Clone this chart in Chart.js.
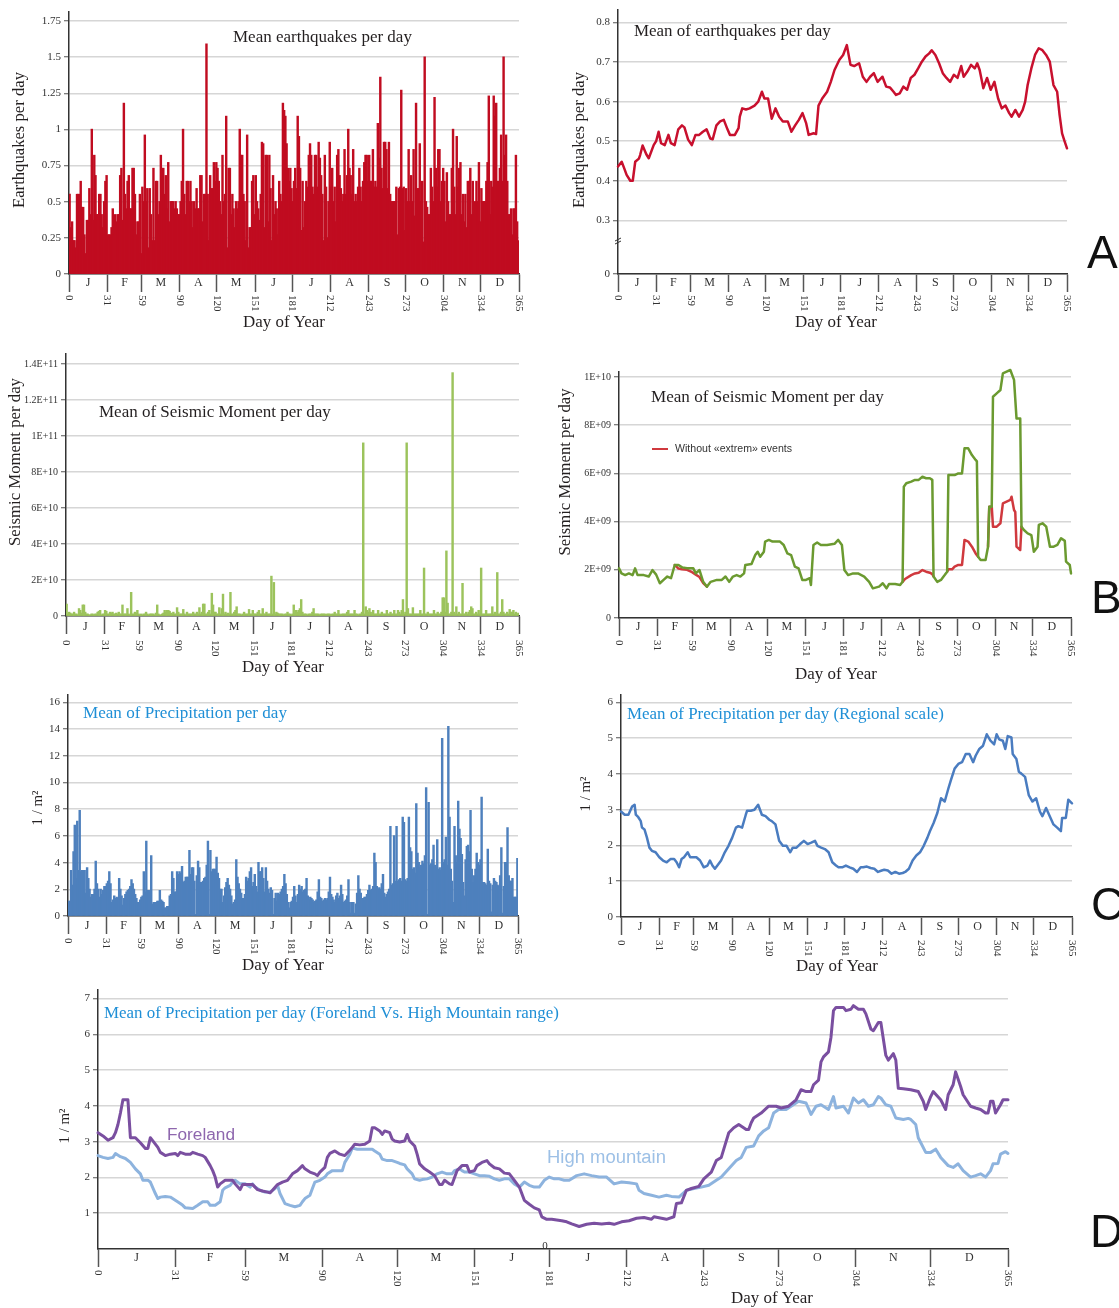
<!DOCTYPE html>
<html>
<head>
<meta charset="utf-8">
<script src="https://cdn.jsdelivr.net/npm/chart.js@4.4.1/dist/chart.umd.min.js"></script>
<style>
  html, body { margin: 0; padding: 0; background: #fff; }
  #page { position: relative; width: 1119px; height: 1308px; overflow: hidden; background: #fff; }
  #page canvas { position: absolute; }
</style>
</head>
<body>
<div id="page">
  <canvas id="quakeDailyChart"></canvas>
  <canvas id="quakeMeanChart"></canvas>
  <canvas id="momentDailyChart"></canvas>
  <canvas id="momentMeanChart"></canvas>
  <canvas id="rainDailyChart"></canvas>
  <canvas id="rainMeanChart"></canvas>
  <canvas id="rainZoneChart"></canvas>
</div>
<script>
const monthStarts = [0, 31, 59, 90, 120, 151, 181, 212, 243, 273, 304, 334, 365];
const monthLetters = ['J', 'F', 'M', 'A', 'M', 'J', 'J', 'A', 'S', 'O', 'N', 'D'];

// A - earthquakes per day (daily mean, day 1..365)
const quakeDaily = [
  0.55,0.32,0.36,0.23,0.23,0.18,0.55,0.55,0.55,0.64,
  0.46,0.46,0.27,0.14,0.37,0.37,0.59,0.41,1.0,0.37,
  0.82,0.68,0.41,0.41,0.55,0.55,0.41,0.32,0.5,0.64,
  0.68,0.27,0.27,0.27,0.32,0.45,0.27,0.41,0.36,0.41,
  0.41,0.68,0.73,0.37,1.18,0.55,0.45,0.64,0.68,0.45,
  0.45,0.73,0.73,0.55,0.27,0.36,0.36,0.55,0.14,0.6,
  0.5,0.96,0.5,0.59,0.18,0.59,0.41,0.23,0.73,0.23,
  0.64,0.64,0.41,0.5,0.82,0.73,0.73,0.55,0.68,0.45,
  0.77,0.36,0.5,0.5,0.5,0.45,0.5,0.45,0.41,0.41,
  0.5,0.64,1.0,0.55,0.41,0.64,0.64,0.5,0.64,0.5,
  0.32,0.5,0.45,0.59,0.45,0.45,0.68,0.68,0.36,0.55,
  0.55,1.59,0.55,0.23,0.68,0.59,0.59,0.77,0.64,0.77,
  0.73,0.64,0.5,0.41,0.82,0.5,0.55,1.09,0.18,0.73,
  0.73,0.41,0.55,0.45,0.32,0.5,0.45,0.5,1.0,0.82,
  0.82,0.55,0.5,0.23,0.96,0.18,0.32,0.32,0.64,0.68,
  0.41,0.68,0.5,0.45,0.37,0.55,0.91,0.9,0.32,0.82,
  0.82,0.36,0.82,0.59,0.23,0.68,0.41,0.5,0.45,0.27,
  0.64,0.55,0.5,1.18,1.13,1.09,0.9,0.73,0.64,0.73,
  0.59,0.5,0.64,0.73,0.59,1.09,0.95,0.73,0.3,0.64,
  0.32,0.5,0.64,0.6,0.82,0.9,0.82,0.6,0.55,0.82,
  0.82,0.6,0.91,0.8,0.68,0.55,0.23,0.82,0.6,0.25,
  0.5,0.91,0.6,0.73,0.5,0.6,0.36,0.82,0.86,0.68,
  0.59,0.5,0.55,0.86,0.55,0.68,1.0,0.73,0.68,0.55,
  0.86,0.5,0.55,0.5,0.6,0.73,0.6,0.5,0.64,0.77,
  0.82,0.82,0.64,0.82,0.64,0.64,0.86,0.6,0.64,0.6,
  1.04,0.8,1.36,0.73,0.59,0.91,0.91,0.86,0.59,0.91,
  0.55,0.5,0.5,0.5,0.5,0.6,0.27,0.59,0.6,1.27,
  0.59,0.6,0.3,0.59,0.5,0.86,0.5,0.68,0.5,0.86,
  0.4,1.18,0.59,0.59,0.9,0.5,0.64,0.22,1.5,0.5,
  0.46,0.41,0.41,0.73,0.6,0.5,1.22,0.73,0.6,0.86,
  0.86,0.5,0.64,0.73,0.64,0.36,0.7,0.5,0.41,0.41,
  0.73,1.0,0.6,0.41,0.95,0.6,0.73,0.77,0.41,0.55,
  0.36,0.55,0.32,0.64,0.64,0.73,0.41,0.64,0.41,0.5,
  0.64,0.5,0.77,0.36,0.59,0.5,0.5,0.5,0.64,0.77,
  1.23,0.41,0.64,0.6,1.23,1.09,1.18,0.64,0.64,0.73,
  0.96,0.64,1.5,0.82,0.96,0.64,0.41,0.41,0.45,0.27,
  0.45,0.45,0.82,0.36,0.23
];
const quakeTicks = [0, 0.25, 0.5, 0.75, 1, 1.25, 1.5, 1.75];

// A - running mean of earthquakes per day
const quakeMeanDays = [
  0,3,5,7,10,12,14,17,18,20,
  23,25,29,31,33,35,38,41,43,46,
  49,52,54,57,60,63,66,69,72,75,
  77,80,83,86,89,91,95,98,99,101,
  104,107,111,114,117,119,122,125,128,131,
  134,138,141,144,147,150,153,155,159,161,
  163,166,170,173,176,180,183,186,189,192,
  196,199,202,205,208,211,215,218,221,224,
  226,229,232,235,238,241,244,247,250,253,
  255,258,261,264,267,270,273,276,279,281,
  284,287,290,292,294,297,300,303,306,309,
  312,315,318,320,323,326,329,331,333,336,
  339,342,345,348,351,354,357,359,361,363,
  365
];
const quakeMean = [
  0.436,0.448,0.432,0.415,0.40,0.40,0.448,0.456,0.465,0.489,
  0.467,0.457,0.49,0.5,0.524,0.495,0.49,0.516,0.495,0.49,
  0.53,0.54,0.535,0.504,0.49,0.516,0.516,0.524,0.53,0.507,
  0.505,0.54,0.55,0.554,0.53,0.516,0.516,0.533,0.562,0.583,
  0.58,0.583,0.59,0.6,0.625,0.608,0.608,0.557,0.583,0.562,
  0.55,0.55,0.524,0.54,0.554,0.571,0.545,0.516,0.52,0.518,
  0.59,0.608,0.625,0.65,0.68,0.706,0.718,0.743,0.693,0.69,
  0.697,0.663,0.65,0.663,0.672,0.65,0.663,0.638,0.636,0.625,
  0.617,0.621,0.638,0.63,0.66,0.668,0.684,0.701,0.714,0.722,
  0.73,0.718,0.697,0.672,0.66,0.65,0.668,0.66,0.69,0.663,
  0.676,0.693,0.684,0.697,0.68,0.634,0.66,0.63,0.65,0.608,
  0.583,0.59,0.571,0.562,0.579,0.562,0.579,0.6,0.642,0.684,
  0.718,0.735,0.73,0.718,0.701,0.642,0.625,0.566,0.52,0.5,
  0.482
];
const quakeMeanTicks = [0.3, 0.4, 0.5, 0.6, 0.7, 0.8];

// B - seismic moment per day, in units of 1E+09
const momentDaily = [
  6.5,1,2,1.5,1,1,2,1,1,0.5,
  4,3,1.5,6,6,2,1,1,0.5,0.5,
  1,1,0.5,1,1,2,2.5,3,0.5,1,
  1,3,2.5,1,1,2,1.5,2,1,1,
  1.5,1,2,1,1,6,1,1,1,4,
  1,0.5,13,1,1,2,1.5,3,1,0.5,
  1,0.5,1,1,2,1,0.5,1,1,1,
  1,0.5,1.5,6,1,0.5,0.5,1,1.5,3,
  2,3,3,2.5,1.5,1,2,1,1,4.5,
  2,1,1,1,3.5,1,0.5,2,1,1,
  1,1,2,1,1,2,1,4.5,1,2,
  6.5,6.5,1,1,2,3,1,12.5,6,2,
  2,1,1,4.5,1,4,12,1,2,1,
  1.5,1,13,1,1,2,3,5,1,1,
  1,0.5,1,2,1,1,1,3.5,1,1,
  3,1,1,1,2,3,1,1,4,1,
  1,2,1,1,1,22,1,18.5,1,2,
  1.5,1,1,1,1,0.5,1,1,2,1,
  1,0.5,1,6,1,3,2,3,4,9,
  2,1,1,1,0.5,1,1,1,2,4,
  1,1,1,1,0.5,1,1,1,1,0.5,
  1,1,1,0.5,1,1,2,1,1,3,
  1,0.5,1,1,1,1,2,3,1,1,
  1,1,3,1,1,0.5,1,1,2,96,
  1,5,3,2,4,2,1,3,1,1,
  1,3,1,1,2,1,1,1,3,1,
  1,2,1,1,3,1,1,3,2,1,
  3,9,1,2,96,4,1,1,1,4.5,
  1,1,1,1,1,3,1,1,26.5,1,
  1,2,1,1,1,1,3,1,1,2,
  1,1,2,10,10,2,36,7,1,1,
  2,135,2,1,5,1,2,1,1,18,
  1,1,2,1,2,3,5,4,1,1,
  2,1,3,1,26.5,1,1,1,3,1,
  1,1,1,5,1,2,1,24,1,1,
  2,9,2,1,1,2,1,3.5,2,2,
  3,1,2,1,1.5
];
const momentDailyTicks = [0, 20, 40, 60, 80, 100, 120, 140];

// B - running mean of seismic moment (1E+09)
const momentMeanDays = [
  0,2,5,8,11,13,15,20,24,27,
  30,33,36,39,42,45,48,51,55,60,
  62,65,68,71,74,79,83,86,89,92,
  95,98,101,102,107,110,112,114,117,118,
  121,124,127,130,133,136,139,142,145,148,
  151,154,155,157,160,163,168,174,177,180,
  182,185,189,193,198,202,205,210,213,216,
  218,223,227,229,230,232,236,239,242,245,
  248,251,253,254,257,260,263,265,266,269,
  271,274,277,279,282,285,288,289,290,292,
  296,298,299,301,302,305,308,310,313,316,
  319,321,324,325,327,330,333,335,338,339,
  342,345,348,351,354,357,360,361,364,365
];
const momentMean = [
  2.06,1.85,1.78,1.85,1.78,2.06,1.78,1.78,1.72,1.99,
  1.8,1.44,1.58,1.72,1.65,2.2,2.2,2.1,2.06,2.06,
  1.85,1.99,1.5,1.3,1.5,1.58,1.58,1.72,1.5,1.72,
  1.78,1.72,1.85,2.2,2.24,2.61,2.75,2.54,2.75,3.17,
  3.24,3.17,3.17,3.17,3.03,2.68,2.61,2.13,2.06,1.58,
  1.58,1.65,1.37,3.03,3.13,3.03,3.03,3.08,3.24,3.03,
  1.99,1.78,1.85,1.85,1.72,1.5,1.23,1.3,1.44,1.23,
  1.41,1.41,1.37,1.5,5.45,5.59,5.66,5.73,5.73,5.86,
  5.8,5.8,5.73,1.72,1.5,1.58,1.78,1.92,5.93,5.93,
  5.93,6.0,6.0,7.04,7.04,6.76,6.56,6.5,2.54,2.41,
  2.41,2.96,4.62,4.62,9.18,9.32,9.46,10.15,10.22,10.29,
  9.88,8.28,8.28,3.79,3.65,3.51,3.44,2.75,2.96,3.86,
  3.93,3.79,2.96,2.96,3.03,3.31,3.2,2.34,2.2,1.85
];
// B - running mean without "extrem" events (only where it differs)
const momentCutDays = [
  45,48,51,55,59,62,65,68,71, 72,
  229,231,236,239,242,245,248,251,253,254, 255,
  265,266,269,271,274,277,279,282,285,288,290, 291,
  298,299,301,302,305,308,310,313,316,317,319,320,321,324,325
];
const momentCut = [
  2.2,2.05,2.02,2.0,1.9,1.8,1.7,1.45,1.3, null,
  1.5,1.62,1.78,1.85,1.88,1.99,1.92,1.88,1.82,1.72, null,
  1.92,2.02,2.02,2.13,2.2,2.2,3.24,3.17,2.96,2.68,2.54, null,
  2.96,4.62,4.62,3.79,3.79,3.93,4.76,4.83,4.9,5.03,4.48,4.4,2.96,2.82,3.79
];
const momentMeanTicks = [0, 2, 4, 6, 8, 10];

// C - precipitation per day (l/m2)
const rainDaily = [
  1.1,1.1,3.4,2.3,4.8,6.8,2.8,7.1,3.4,7.9,
  3.3,3.4,3.4,3.4,1.7,3.6,2.8,2.0,1.4,1.6,
  1.6,2.0,4.1,2.4,2.0,1.4,2.0,1.6,1.9,2.2,
  2.2,2.4,2.6,3.3,2.4,1.0,1.2,1.5,1.3,1.4,
  1.3,2.8,2.0,1.5,0.8,1.3,1.6,1.8,1.9,2.0,
  2.2,2.7,2.4,2.0,1.6,1.3,1.0,1.0,1.2,1.4,
  1.5,3.3,1.8,5.6,1.9,1.9,1.8,4.5,0.9,1.0,
  1.0,1.0,1.1,1.1,1.9,1.2,1.1,1.0,0.6,0.6,
  0.7,0.7,1.5,1.6,3.3,2.8,1.8,1.8,3.3,3.1,
  3.3,3.2,3.7,2.5,2.6,2.9,2.9,2.9,4.9,3.1,
  3.6,3.6,2.6,0.1,3.0,4.1,3.6,2.5,2.5,2.6,
  2.8,2.9,3.8,5.6,0.1,4.9,3.3,3.5,3.5,3.5,
  4.4,3.2,2.8,2.0,2.0,1.0,1.5,2.1,2.5,2.8,
  2.3,2.0,1.5,0.9,1.0,1.2,4.2,2.9,2.4,2.0,
  1.7,1.3,1.3,1.6,2.9,2.6,2.8,3.3,3.6,2.2,
  2.5,3.1,2.2,1.8,4.0,3.3,3.3,3.6,2.8,1.8,
  3.6,2.6,2.0,1.7,2.1,1.9,0.1,1.3,1.7,1.1,
  1.7,1.6,1.8,2.0,2.2,3.1,2.4,1.6,1.0,0.6,
  1.0,1.1,1.4,2.2,1.5,1.0,1.6,2.3,2.0,2.2,
  1.8,1.9,2.0,2.8,1.5,1.2,1.4,1.3,1.2,1.0,
  1.1,1.2,1.8,2.7,1.4,1.3,1.1,1.2,1.3,1.2,
  1.3,1.8,2.9,1.6,1.4,1.2,1.0,1.5,1.7,1.3,
  1.5,2.3,1.6,1.0,1.1,1.2,1.5,2.7,1.0,0.2,
  1.0,1.0,0.2,0.9,1.7,3.0,2.0,1.7,1.3,1.3,
  1.4,1.4,1.6,1.9,2.3,1.9,2.0,2.2,4.7,4.0,
  2.2,2.0,2.1,2.0,2.4,3.1,1.7,1.4,1.6,1.8,
  2.0,6.7,2.3,2.4,6.0,2.6,6.7,2.6,2.7,2.8,
  2.6,7.4,7.0,2.7,2.6,2.8,7.4,5.1,4.8,3.5,
  3.6,3.2,8.4,4.7,4.0,3.6,3.8,4.1,3.9,4.5,
  9.6,0.1,8.5,3.8,3.9,4.2,5.3,3.8,3.6,5.7,
  3.5,3.6,3.4,13.3,4.0,4.2,5.9,3.8,14.2,7.4,
  3.5,2.6,1.0,6.7,4.5,4.0,8.6,6.5,5.8,4.6,
  2.5,1.5,4.2,5.2,5.3,4.8,7.9,3.5,2.5,3.0,
  3.5,4.7,4.0,3.8,4.2,8.9,2.5,2.5,2.4,2.3,
  5.0,2.6,2.4,0.3,2.3,2.8,2.6,2.5,2.3,2.2,
  3.0,5.1,0.2,2.2,4.0,4.0,6.6,3.0,2.6,2.6,
  2.8,1.4,1.4,1.4,4.3
];
const rainDailyTicks = [0, 2, 4, 6, 8, 10, 12, 14, 16];

// C - running mean of precipitation (regional scale)
const rainMeanDays = [
  0,3,6,9,11,12,14,16,17,19,
  21,23,25,28,31,34,37,40,43,45,
  47,49,51,54,56,58,61,64,67,70,
  72,74,76,78,81,84,87,90,93,95,
  98,101,102,105,108,111,114,117,120,122,
  125,128,131,134,137,139,142,145,148,151,
  154,157,159,162,165,168,171,174,176,179,
  182,185,188,191,194,196,199,202,205,208,
  211,213,216,219,222,225,228,230,233,236,
  239,242,245,248,250,253,256,259,262,265,
  267,270,273,276,279,282,285,287,290,293,
  296,299,302,304,306,309,311,313,316,317,
  320,322,324,327,330,333,336,339,341,344,
  347,350,353,356,357,360,362,365
];
const rainMean = [
  2.95,2.86,2.86,3.09,3.14,2.86,2.79,2.68,2.5,2.45,
  2.22,1.94,1.85,1.81,1.67,1.58,1.53,1.62,1.62,1.53,
  1.39,1.62,1.67,1.81,1.67,1.67,1.67,1.58,1.39,1.44,
  1.58,1.44,1.35,1.44,1.58,1.81,1.99,2.22,2.5,2.54,
  2.5,2.86,2.97,2.97,3.0,3.14,2.86,2.82,2.72,2.68,
  2.59,2.13,1.99,1.99,1.81,1.94,1.94,2.04,2.13,2.04,
  2.08,2.13,1.99,1.94,1.9,1.81,1.53,1.44,1.39,1.39,
  1.44,1.39,1.35,1.26,1.39,1.39,1.41,1.37,1.35,1.26,
  1.3,1.32,1.3,1.21,1.26,1.21,1.23,1.26,1.35,1.58,
  1.72,1.81,1.99,2.22,2.4,2.63,2.91,3.32,3.23,3.6,
  3.83,4.15,4.28,4.33,4.56,4.56,4.33,4.51,4.7,4.79,
  5.11,4.93,4.83,5.11,4.97,4.93,4.7,5.06,5.02,4.56,
  4.42,4.06,4.01,3.92,3.41,3.23,3.32,2.95,2.82,3.05,
  2.82,2.59,2.5,2.4,2.77,2.77,3.28,3.18
];
const rainMeanTicks = [0, 1, 2, 3, 4, 5, 6];

// D - foreland vs high mountain range
const forelandDays = [
  0,2,4,6,7,8,9,10,12,13,
  15,17,19,20,21,22,24,25,27,29,
  31,32,33,35,37,38,40,42,43,45,
  46,47,48,49,51,53,54,55,57,58,
  60,62,64,66,68,69,70,72,74,76,
  78,80,82,83,85,87,88,89,91,92,
  93,95,97,99,101,102,103,105,107,109,
  110,111,113,114,115,117,118,119,121,123,
  124,125,127,128,129,131,133,135,137,138,
  139,141,142,144,146,148,149,151,152,154,
  156,157,159,161,163,165,167,169,171,173,
  175,177,178,180,182,184,186,188,190,193,
  196,199,202,205,207,210,213,216,219,222,
  223,226,228,231,232,234,236,238,241,243,
  246,248,250,251,253,255,257,260,261,262,
  263,266,269,272,274,277,280,282,284,286,
  287,289,290,291,293,294,295,296,299,300,
  302,303,305,307,308,310,311,313,314,316,
  317,319,320,321,323,326,329,331,332,334,
  335,338,340,341,343,344,346,347,350,352,
  354,356,357,358,359,360,362,363,365
];
const foreland = [
  3.25,3.16,3.04,3.11,3.25,3.48,3.8,4.17,4.17,3.11,
  3.11,2.97,2.81,2.81,3.11,3.02,2.84,2.7,2.61,2.65,
  2.67,2.61,2.7,2.65,2.65,2.7,2.65,2.61,2.56,2.33,
  2.19,2.01,1.73,1.82,1.92,1.92,1.92,1.82,1.66,1.8,
  1.8,1.8,1.66,1.62,1.59,1.57,1.64,1.8,1.87,1.92,
  2.1,2.19,2.33,2.24,2.15,2.1,2.05,2.15,2.28,2.56,
  2.67,2.74,2.65,2.61,2.76,2.84,2.93,2.91,2.93,3.02,
  3.39,3.39,3.3,3.2,3.3,3.25,3.07,3.02,2.99,3.02,
  3.2,3.02,2.88,2.65,2.38,2.24,2.15,2.05,1.8,1.8,
  1.92,1.82,1.8,2.19,2.33,2.33,2.15,2.19,2.33,2.42,
  2.47,2.38,2.27,2.24,2.12,2.1,1.92,1.73,1.36,1.25,
  1.15,1.09,0.9,0.83,0.83,0.81,0.79,0.76,0.7,0.63,
  0.69,0.72,0.7,0.72,0.69,0.76,0.79,0.86,0.88,0.83,
  0.9,0.86,0.83,0.9,1.27,1.29,1.64,1.69,1.75,1.96,
  2.15,2.47,2.56,2.79,3.25,3.39,3.48,3.34,3.34,3.53,
  3.66,3.8,3.99,3.99,3.94,3.99,4.17,4.45,4.4,4.4,
  4.59,4.72,5.23,5.37,5.51,5.92,6.66,6.75,6.75,6.66,
  6.7,6.8,6.7,6.7,6.57,6.15,6.1,6.33,6.33,5.41,
  5.28,5.46,5.28,4.49,4.48,4.45,4.4,4.13,3.9,4.26,
  4.4,4.17,3.9,4.31,4.59,4.95,4.54,4.31,3.99,3.94,
  3.9,3.8,3.8,4.13,4.13,3.8,4.03,4.17,4.17
];
const mountainDays = [
  0,2,4,6,7,9,11,13,15,17,
  18,20,21,23,24,25,27,29,31,33,
  34,35,38,40,42,44,45,47,49,50,
  51,53,54,55,57,59,61,62,63,65,
  67,69,71,72,73,75,77,79,81,82,
  83,85,86,87,89,91,92,94,96,98,
  99,101,102,104,106,108,110,111,113,114,
  116,118,120,121,123,124,126,127,129,130,
  132,134,136,138,140,142,143,145,146,147,
  149,151,153,155,157,159,161,163,165,167,
  169,171,173,175,177,179,181,183,185,187,
  189,192,195,198,201,204,207,210,213,216,
  217,219,222,225,228,230,233,236,239,242,
  245,248,250,253,256,258,260,263,265,267,
  269,271,273,276,278,281,284,286,288,290,
  293,295,296,299,301,303,305,307,309,311,
  313,314,316,318,320,323,325,326,328,329,
  332,334,336,338,341,343,345,347,350,352,
  354,356,358,359,361,362,364,365
];
const mountain = [
  2.61,2.56,2.53,2.56,2.67,2.58,2.53,2.42,2.24,2.1,
  1.92,1.92,1.87,1.55,1.41,1.45,1.47,1.45,1.36,1.27,
  1.22,1.15,1.13,1.22,1.32,1.32,1.22,1.22,1.32,1.64,
  1.71,1.78,1.87,1.92,1.82,1.82,1.73,1.82,1.73,1.64,
  1.59,1.59,1.69,1.78,1.55,1.27,1.22,1.18,1.22,1.32,
  1.41,1.5,1.69,1.87,1.92,2.01,2.1,2.19,2.19,2.19,
  2.42,2.65,2.82,2.79,2.79,2.79,2.79,2.74,2.65,2.51,
  2.47,2.47,2.42,2.39,2.35,2.24,2.1,1.96,1.92,1.94,
  1.96,2.01,2.1,2.15,2.1,2.1,2.19,2.24,2.19,2.15,
  2.15,2.1,2.05,2.05,2.03,1.96,1.92,1.96,1.96,1.82,
  1.73,1.87,1.78,1.73,1.73,1.92,2.01,1.96,1.96,1.92,
  1.92,2.05,2.1,2.05,2.01,2.01,1.82,1.87,1.85,1.82,
  1.64,1.55,1.5,1.45,1.5,1.47,1.45,1.64,1.69,1.73,
  1.78,1.92,2.01,2.24,2.47,2.56,2.84,2.88,3.16,3.3,
  3.39,3.8,3.9,3.9,3.99,4.13,4.08,3.76,3.99,4.03,
  3.9,4.26,3.94,3.99,3.8,4.22,4.08,4.17,3.99,4.03,
  4.26,4.22,4.03,3.99,3.66,3.62,3.65,3.62,3.48,3.11,
  2.7,2.7,2.79,2.56,2.33,2.28,2.38,2.19,2.01,2.05,
  2.1,2.01,2.19,2.38,2.39,2.65,2.72,2.67
];
const rainZoneTicks = [1, 2, 3, 4, 5, 6, 7];

const SERIF = '"Liberation Serif", "DejaVu Serif", serif';
const SANS = '"Liberation Sans", "DejaVu Sans", sans-serif';
const BLUE_TITLE = '#1f8fd6';

function points(days, values) {
  return days.map((d, i) => ({ x: d, y: values[i] }));
}
function dailyPoints(values) {
  return values.map((v, i) => ({ x: i + 0.5, y: v }));
}
function sciLabel(v) {
  if (v === 0) return '0';
  const n = v * 1e9;
  const e = Math.floor(Math.log10(n) + 1e-9);
  const m = +(n / Math.pow(10, e)).toFixed(1);
  return m + 'E+' + String(e).padStart(2, '0');
}
function fitFont(ctx, text, family, width) {
  ctx.font = '20px ' + family;
  const size = 20 * width / ctx.measureText(text).width;
  ctx.font = size.toFixed(2) + 'px ' + family;
}
function drawText(ctx, t) {
  ctx.save();
  const family = t.family || SERIF;
  if (t.w) fitFont(ctx, t.text, family, t.w);
  else ctx.font = t.size + 'px ' + family;
  ctx.fillStyle = t.color || '#231f20';
  ctx.textAlign = t.align || 'left';
  ctx.textBaseline = t.baseline || 'middle';
  ctx.translate(t.x, t.y);
  if (t.rot) ctx.rotate(t.rot);
  ctx.fillText(t.text, 0, 0);
  ctx.restore();
}

function decorPlugin(p) {
  return {
    id: 'decor',
    afterDraw(chart) {
      const ctx = chart.ctx;
      const xs = chart.scales.x;
      const b = chart.chartArea.bottom;
      ctx.save();
      ctx.fillStyle = '#333';
      ctx.textAlign = 'center';
      ctx.textBaseline = 'middle';
      ctx.font = '12px ' + SERIF;
      monthLetters.forEach((m, i) => {
        const cx = (xs.getPixelForValue(monthStarts[i]) + xs.getPixelForValue(monthStarts[i + 1])) / 2;
        ctx.fillText(m, cx, b + p.monthGap);
      });
      ctx.font = '11px ' + SERIF;
      ctx.textAlign = 'left';
      monthStarts.forEach(d => {
        ctx.save();
        ctx.translate(xs.getPixelForValue(d), b + p.labelGap);
        ctx.rotate(Math.PI / 2);
        ctx.fillText(String(d), 0, 0);
        ctx.restore();
      });
      ctx.translate(-p.box.x, -p.box.y);
      p.texts.forEach(t => drawText(ctx, t));
      if (p.extra) p.extra(ctx);
      ctx.restore();
    }
  };
}

function makePanel(id, p, type, datasets) {
  const canvas = document.getElementById(id);
  canvas.width = p.box.w;
  canvas.height = p.box.h;
  canvas.style.left = p.box.x + 'px';
  canvas.style.top = p.box.y + 'px';
  return new Chart(canvas, {
    type: type,
    data: { datasets: datasets },
    options: {
      responsive: false,
      animation: false,
      devicePixelRatio: 1,
      layout: { padding: { top: p.area.t - p.box.y, right: p.box.x + p.box.w - p.area.r, left: 0, bottom: 0 } },
      plugins: { legend: { display: false }, tooltip: { enabled: false } },
      elements: { point: { radius: 0 }, line: { tension: 0, borderJoinStyle: 'round', borderCapStyle: 'round' } },
      scales: {
        x: {
          type: 'linear', min: 0, max: 365, offset: false,
          afterFit: s => { s.height = p.box.y + p.box.h - p.area.b; },
          afterBuildTicks: s => { s.ticks = monthStarts.map(v => ({ value: v })); },
          ticks: { display: false },
          grid: { drawOnChartArea: false, drawTicks: true, tickLength: 18, tickColor: '#555', tickWidth: 1.5, offset: false },
          border: { color: '#333', width: 1.5 }
        },
        y: {
          type: 'linear', min: p.yMin, max: p.yMax,
          afterFit: s => { s.width = p.area.l - p.box.x; },
          afterBuildTicks: s => { s.ticks = p.yTicks.map(v => ({ value: v })); },
          ticks: { callback: p.yFormat, color: '#333', font: { family: SERIF, size: p.yFont || 11 }, padding: 3, autoSkip: false },
          grid: { color: '#d6d6d6', lineWidth: 1.5, tickLength: 5, tickColor: '#555', tickWidth: 1 },
          border: { color: '#333', width: 1.5 }
        }
      }
    },
    plugins: [decorPlugin(p)]
  });
}

function barSet(values, color) {
  return { type: 'bar', data: dailyPoints(values), backgroundColor: color, borderWidth: 0,
           barPercentage: 1, categoryPercentage: 1, inflateAmount: 0.6 };
}
function lineSet(days, values, color, width) {
  return { type: 'line', data: points(days, values), borderColor: color, borderWidth: width,
           pointRadius: 0, fill: false, spanGaps: false, clip: false };
}

// A left
makePanel('quakeDailyChart', {
  box: { x: 0, y: 0, w: 540, h: 340 }, area: { l: 69, t: 12, r: 519, b: 274 },
  yMin: 0, yMax: 1.812, yTicks: quakeTicks, yFormat: v => String(v),
  monthGap: 9, labelGap: 21,
  texts: [
    { text: 'Mean earthquakes per day', x: 233, y: 38, w: 179 },
    { text: 'Earthquakes per day', x: 20, y: 140, w: 136, rot: -Math.PI / 2, align: 'center' },
    { text: 'Day of Year', x: 284, y: 323, w: 82, align: 'center' }
  ]
}, 'bar', [barSet(quakeDaily, '#c00c20')]);

// A right (broken axis: bottom of axis is labelled 0)
const quakeAxisFloor = 0.1643;
makePanel('quakeMeanChart', {
  box: { x: 545, y: 0, w: 574, h: 340 }, area: { l: 618, t: 8, r: 1067, b: 274 },
  yMin: quakeAxisFloor, yMax: 0.8327, yTicks: [quakeAxisFloor].concat(quakeMeanTicks),
  yFormat: v => (v < 0.2 ? '0' : v.toFixed(1)),
  monthGap: 9, labelGap: 21,
  texts: [
    { text: 'Mean of earthquakes per day', x: 634, y: 32, w: 197 },
    { text: 'Earthquakes per day', x: 580, y: 140, w: 136, rot: -Math.PI / 2, align: 'center' },
    { text: 'Day of Year', x: 836, y: 323, w: 82, align: 'center' },
    { text: 'A', x: 1087, y: 268, size: 46, family: SANS, color: '#111', baseline: 'alphabetic' }
  ],
  extra: ctx => {
    ctx.strokeStyle = '#333';
    ctx.lineWidth = 1;
    ctx.beginPath();
    ctx.moveTo(615, 241); ctx.lineTo(621, 238);
    ctx.moveTo(615, 244); ctx.lineTo(621, 241);
    ctx.stroke();
  }
}, 'line', [lineSet(quakeMeanDays, quakeMean, '#c8102e', 2.5)]);

// B left
makePanel('momentDailyChart', {
  box: { x: 0, y: 345, w: 540, h: 335 }, area: { l: 66, t: 354, r: 519, b: 616 },
  yMin: 0, yMax: 145.5, yTicks: momentDailyTicks, yFormat: sciLabel, yFont: 10,
  monthGap: 11, labelGap: 24,
  texts: [
    { text: 'Mean of Seismic Moment per day', x: 99, y: 413, w: 232 },
    { text: 'Seismic Moment per day', x: 16, y: 462, w: 168, rot: -Math.PI / 2, align: 'center' },
    { text: 'Day of Year', x: 283, y: 668, w: 82, align: 'center' }
  ]
}, 'bar', [barSet(momentDaily, '#9cc35c')]);

// B right
makePanel('momentMeanChart', {
  box: { x: 545, y: 345, w: 574, h: 345 }, area: { l: 619, t: 372, r: 1071, b: 618 },
  yMin: 0, yMax: 10.207, yTicks: momentMeanTicks, yFormat: sciLabel, yFont: 10,
  monthGap: 9, labelGap: 22,
  texts: [
    { text: 'Mean of Seismic Moment per day', x: 651, y: 398, w: 233 },
    { text: 'Seismic Moment per day', x: 566, y: 472, w: 167, rot: -Math.PI / 2, align: 'center' },
    { text: 'Day of Year', x: 836, y: 675, w: 82, align: 'center' },
    { text: 'Without «extrem» events', x: 675, y: 449, w: 117, family: SANS, color: '#333' },
    { text: 'B', x: 1091, y: 613, size: 46, family: SANS, color: '#111', baseline: 'alphabetic' }
  ],
  extra: ctx => {
    ctx.strokeStyle = '#d0393e';
    ctx.lineWidth = 2;
    ctx.beginPath();
    ctx.moveTo(652, 449); ctx.lineTo(668, 449);
    ctx.stroke();
  }
}, 'line', [
  lineSet(momentMeanDays, momentMean, '#6b9a30', 2.5),
  lineSet(momentCutDays, momentCut, '#d0393e', 2.5)
]);

// C left
makePanel('rainDailyChart', {
  box: { x: 0, y: 685, w: 540, h: 295 }, area: { l: 68, t: 690, r: 518, b: 916 },
  yMin: 0, yMax: 16.59, yTicks: rainDailyTicks, yFormat: v => String(v),
  monthGap: 10, labelGap: 22,
  texts: [
    { text: 'Mean of Precipitation per day', x: 83, y: 714, w: 204, color: BLUE_TITLE },
    { text: '1 / m²', x: 38, y: 808, w: 35, rot: -Math.PI / 2, align: 'center' },
    { text: 'Day of Year', x: 283, y: 966, w: 82, align: 'center' }
  ]
}, 'bar', [barSet(rainDaily, '#4e80bd')]);

// C right
makePanel('rainMeanChart', {
  box: { x: 545, y: 685, w: 574, h: 295 }, area: { l: 621, t: 690, r: 1072, b: 917 },
  yMin: 0, yMax: 6.22, yTicks: rainMeanTicks, yFormat: v => String(v),
  monthGap: 10, labelGap: 23,
  texts: [
    { text: 'Mean of Precipitation per day (Regional scale)', x: 627, y: 715, w: 317, color: BLUE_TITLE },
    { text: '1 / m²', x: 586, y: 794, w: 35, rot: -Math.PI / 2, align: 'center' },
    { text: 'Day of Year', x: 837, y: 967, w: 82, align: 'center' },
    { text: 'C', x: 1091, y: 920, size: 46, family: SANS, color: '#111', baseline: 'alphabetic' }
  ]
}, 'line', [lineSet(rainMeanDays, rainMean, '#4a7cc0', 2.5)]);

// D
makePanel('rainZoneChart', {
  box: { x: 40, y: 980, w: 1079, h: 328 }, area: { l: 98, t: 987, r: 1008, b: 1249 },
  yMin: 0, yMax: 7.249, yTicks: rainZoneTicks, yFormat: v => String(v),
  monthGap: 9, labelGap: 21,
  texts: [
    { text: 'Mean of Precipitation per day (Foreland Vs. High Mountain range)', x: 104, y: 1014, w: 455, color: BLUE_TITLE },
    { text: '1 / m²', x: 65, y: 1126, w: 35, rot: -Math.PI / 2, align: 'center' },
    { text: 'Day of Year', x: 772, y: 1299, w: 82, align: 'center' },
    { text: 'Foreland', x: 167, y: 1135, w: 68, family: SANS, color: '#8e67ae' },
    { text: 'High mountain', x: 547, y: 1158, w: 119, family: SANS, color: '#9dc0e6' },
    { text: '0', x: 545, y: 1246, size: 11, align: 'center', color: '#333' },
    { text: 'D', x: 1090, y: 1247, size: 46, family: SANS, color: '#111', baseline: 'alphabetic' }
  ]
}, 'line', [
  lineSet(forelandDays, foreland, '#7a4fa0', 3),
  lineSet(mountainDays, mountain, '#8db3de', 3)
]);
</script>
</body>
</html>
